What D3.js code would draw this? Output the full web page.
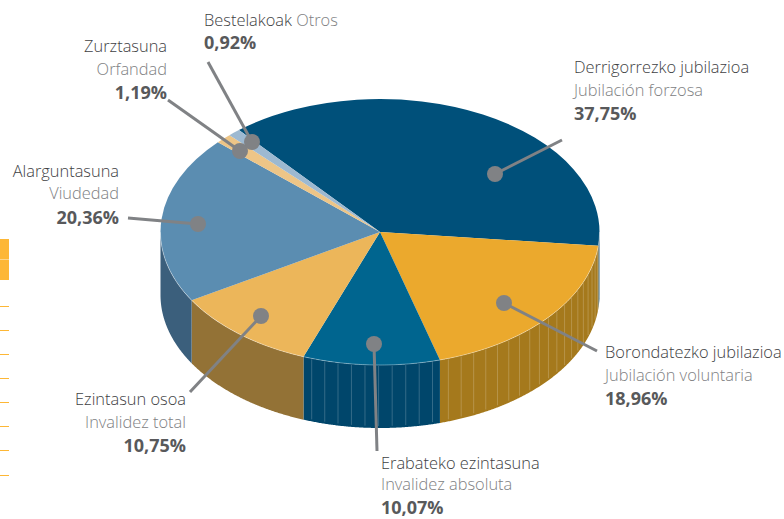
<!DOCTYPE html>
<html><head><meta charset="utf-8">
<script src="https://cdn.jsdelivr.net/npm/d3@7"></script>
<style>html,body{margin:0;padding:0;background:#fff}svg{display:block}text{font-family:"Open Sans",sans-serif;font-size:16.4px;font-weight:300}text.pct{font-size:18px;font-weight:700}</style>
</head><body><svg id="c" width="784" height="519"></svg>
<script>
const basque=["Derrigorrezko jubilazioa","Borondatezko jubilazioa","Erabateko ezintasuna","Ezintasun osoa","Alarguntasuna","Zurztasuna","Bestelakoak"];
const spanish=["Jubilación forzosa","Jubilación voluntaria","Invalidez absoluta","Invalidez total","Viudedad","Orfandad","Otros"];
const shares=[37.75,18.96,10.07,10.75,20.36,1.19,0.92];
const topColors=["#00507a","#eba92d","#00658f","#ecb65a","#5b8db1","#edc587","#9db9d1"];
const sideColors=["#003f62","#a5791c","#00466b","#937236","#3b5f7c","#937236","#6d8aa3"];
// layout of annotations: [dot x, dot y, line end x, line end y, text x, first baseline, anchor, line gap, pct gap]
const notes=[
 [495,174,562,140,574,73,"start",23,47],
 [504,303,597,351,605,358,"start",22.5,46.5],
 [374,344,377,451,381,468.5,"start",21.5,45.5],
 [261,316,190,392,186,405,"end",22.5,46.5],
 [198,224,128,218,119,177,"end",22,46.5],
 [240,151,168,100,167,52,"end",23,47],
 [252,142,208,62,204,26,"start",0,23]];
const cx=380,cy=232,rx=219.5,ry=133,depth=63,start=-40*Math.PI/180;
const svg=d3.select("#c");
// orange fragments of the neighbouring page
const stubY=[306,330,354,378,402,426,450,475];
svg.append("rect").attr("x",0).attr("y",239).attr("width",9).attr("height",41).attr("fill","#fdb736");
svg.append("line").attr("x1",0).attr("x2",9).attr("y1",259.5).attr("y2",259.5).attr("stroke","#fdd58a");
svg.selectAll(".stub").data(stubY).join("line").attr("x1",0).attr("x2",9).attr("y1",d=>d+.5).attr("y2",d=>d+.5).attr("stroke","#fdb736");

const pie=d3.pie().sort(null).startAngle(start).endAngle(start+2*Math.PI)(shares);
const px=a=>cx+rx*Math.sin(a), py=a=>cy-ry*Math.cos(a);
const area=d3.area().x(px).y0(py).y1(a=>py(a)+depth);
const sides=svg.append("g");
const hp=Math.PI/2, thp=3*Math.PI/2;
pie.forEach((p,i)=>{
  let a0=Math.max(p.startAngle,hp),a1=Math.min(p.endAngle,thp);
  if(a1<=a0) return;
  const as=d3.range(a0,a1,0.005).concat([a1]);
  sides.append("path").attr("d",area(as)).attr("fill",sideColors[i]);
  // vertical seams on the front, seen on the two front panels
  if(i<=2){
    const seams=d3.range(a0+0.035,a1,0.062);
    sides.selectAll(null).data(seams).join("line")
      .attr("x1",px).attr("x2",px).attr("y1",a=>py(a)+1).attr("y2",a=>py(a)+depth-2)
      .attr("stroke","#fff").attr("stroke-opacity",.2).attr("stroke-width",1);
  }
});
const arc=d3.arc().innerRadius(0).outerRadius(rx);
const face=svg.append("g").attr("transform",`translate(${cx},${cy}) scale(1,${ry/rx})`);
face.selectAll("path").data(pie).join("path").attr("d",d=>arc(d)).attr("fill",(d,i)=>topColors[i]);
// light rim along the front edge
const rim=d3.line().x(px).y(py);
svg.append("path").attr("d",rim(d3.range(hp,thp,0.01))).attr("fill","none").attr("stroke","#fff").attr("stroke-opacity",.35).attr("stroke-width",1);

const ann=svg.append("g");
notes.forEach(n=>{
  ann.append("line").attr("x1",n[0]).attr("y1",n[1]).attr("x2",n[2]).attr("y2",n[3]).attr("stroke","#808285").attr("stroke-width",3);
});
notes.forEach(n=>{
  ann.append("circle").attr("cx",n[0]).attr("cy",n[1]).attr("r",8).attr("fill","#808285");
});
const fmt=v=>v.toFixed(2).replace(".",",")+"%";
notes.forEach((n,i)=>{
  const t=ann.append("g").attr("text-anchor",n[6]);
  if(i===6){
    const l=t.append("text").attr("x",n[4]).attr("y",n[5]).attr("fill","#404143");
    l.append("tspan").text(basque[i]+" ");
    l.append("tspan").attr("fill","#808183").text(spanish[i]);
  } else {
    t.append("text").attr("x",n[4]).attr("y",n[5]).attr("fill","#404143").text(basque[i]);
    t.append("text").attr("x",n[4]).attr("y",n[5]+n[7]).attr("fill","#808183").text(spanish[i]);
  }
  t.append("text").attr("class","pct").attr("x",n[4]).attr("y",n[5]+n[8]).attr("fill","#58595b").text(fmt(shares[i]));
});
</script></body></html>
